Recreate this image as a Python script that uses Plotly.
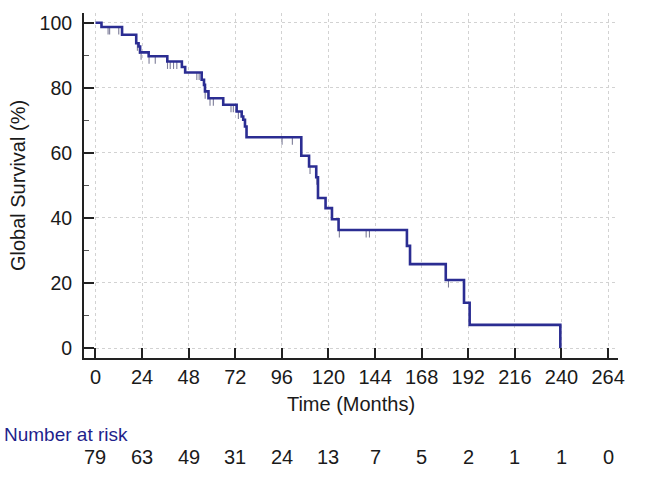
import plotly.graph_objects as go

# Kaplan-Meier step data (months, survival %)
step_times = [0, 3.1, 13.7, 21.0, 22.2, 23.0, 27.4, 37.0, 44.5, 46.2, 54.7, 55.9, 56.4, 58.2,
              65.8, 72.7, 75.3, 76.1, 77.0, 77.8, 106.0, 110.0, 113.7, 114.6, 118.5, 121.8,
              125.2, 160.4, 162.0, 180.4, 189.8, 192.7, 239.4]
survival = [100, 98.7, 96.3, 93.7, 92.7, 90.9, 89.7, 88.1, 86.4, 84.7, 82.5, 80.9, 78.9, 76.8,
            74.8, 72.7, 71.2, 70.2, 68.1, 64.8, 59.1, 55.8, 52.5, 46.1, 43.0, 39.6,
            36.3, 31.4, 25.8, 20.9, 13.9, 7.1, 0]

# censored observations (months)
censor_times = [6.5, 7.3, 12.0, 21.6, 22.6, 23.5, 27.6, 30.8, 37.1, 38.5, 40.2, 41.9, 52.2,
                53.4, 56.5, 59.0, 60.7, 69.8, 71.0, 73.6, 96.1, 101.4, 110.5, 114.0, 125.6,
                139.4, 141.1, 181.8]

tick_times = [0, 24, 48, 72, 96, 120, 144, 168, 192, 216, 240, 264]
at_risk = [79, 63, 49, 31, 24, 13, 7, 5, 2, 1, 1, 0]


def level_at(t):
    s = survival[0]
    for st, sv in zip(step_times, survival):
        if st <= t:
            s = sv
    return s


censor_levels = [level_at(t) for t in censor_times]

FONT = "Liberation Sans, Arial, sans-serif"
BLUE = "#2b2d92"

fig = go.Figure()
fig.add_trace(go.Scatter(
    x=censor_times, y=censor_levels, mode="markers",
    marker=dict(size=1, color="rgba(0,0,0,0)"),
    error_y=dict(type="data", symmetric=False, array=[0] * len(censor_times),
                 arrayminus=[2.3] * len(censor_times), width=0, thickness=1.1,
                 color="#7c7c98"),
    showlegend=False, hoverinfo="skip"))
fig.add_trace(go.Scatter(
    x=step_times, y=survival, mode="lines", line=dict(shape="hv", color=BLUE, width=2.6),
    showlegend=False))

for t, n in zip(tick_times, at_risk):
    fig.add_annotation(x=t, xref="x", y=-0.286, yref="paper", text=str(n), showarrow=False,
                       font=dict(family=FONT, size=20, color="#1a1a1a"),
                       xanchor="center", yanchor="middle")
fig.add_annotation(x=-0.1536, xref="paper", y=-0.223, yref="paper", text="Number at risk",
                   showarrow=False, font=dict(family=FONT, size=19, color="#1f1f8c"),
                   xanchor="left", yanchor="middle")

grid = dict(showgrid=True, gridcolor="#d2d2d2", gridwidth=1, griddash="dot")

fig.update_layout(
    width=645, height=480,
    margin=dict(l=84, r=27, t=13, b=122, autoexpand=False),
    paper_bgcolor="white", plot_bgcolor="white",
    font=dict(family=FONT, size=19, color="#1a1a1a"),
    xaxis=dict(range=[-5.9, 269.1], tickvals=tick_times, ticks="inside", ticklen=10,
               tickwidth=2, tickcolor="#222", showline=True, linecolor="#222", linewidth=2,
               zeroline=False, ticklabelstandoff=0, automargin=False,
               tickfont=dict(size=20),
               title=dict(text="Time (Months)", standoff=10, font=dict(size=20)), **grid),
    yaxis=dict(range=[-3.07, 103], tickvals=[0, 20, 40, 60, 80, 100], ticks="inside",
               ticklen=10, tickwidth=2, tickcolor="#222", showline=True, linecolor="#222",
               linewidth=2, zeroline=False, ticklabelstandoff=6, automargin=False,
               tickfont=dict(size=19.5),
               minor=dict(tickvals=[10, 30, 50, 70, 90], ticks="inside", ticklen=5,
                          tickwidth=1, tickcolor="#555", showgrid=False),
               title=dict(text="Global Survival (%)", standoff=9, font=dict(size=20)), **grid),
)

fig.write_html("out.html", config={"displayModeBar": False},
               post_script="document.body.style.margin='0';")
